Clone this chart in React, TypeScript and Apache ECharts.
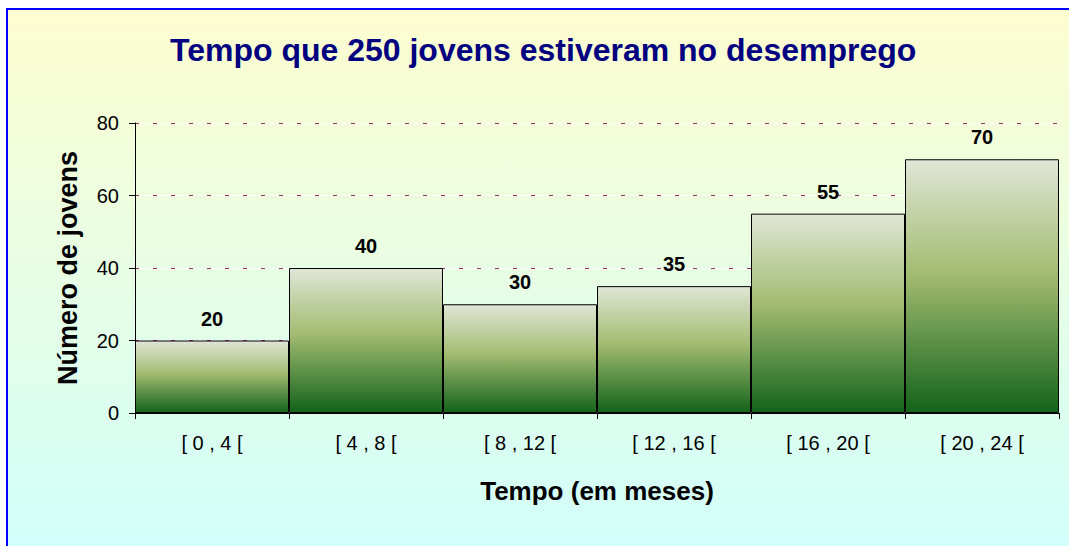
import React, { useEffect, useRef } from "react";
import * as echarts from "echarts";

const categories = ["[ 0 , 4 [", "[ 4 , 8 [", "[ 8 , 12 [", "[ 12 , 16 [", "[ 16 , 20 [", "[ 20 , 24 ["];
const values = [20, 40, 30, 35, 55, 70];
const titleText = "Tempo que 250 jovens estiveram no desemprego";
const xName = "Tempo (em meses)";
const yName = "Número de jovens";

const FONT = "Liberation Sans, Arial, sans-serif";

export default function App() {
  const ref = useRef<HTMLDivElement>(null);
  useEffect(() => {
    const chart = echarts.init(ref.current!, null, { renderer: "svg" });
    const barGrad = new echarts.graphic.LinearGradient(0, 0, 0, 1, [
      { offset: 0, color: "#e0e6d6" },
      { offset: 0.45, color: "#a3bc72" },
      { offset: 1, color: "#13631a" },
    ]);
    chart.setOption({
      animation: false,
      graphic: [
        {
          type: "rect",
          z: -100,
          silent: true,
          shape: { x: 7, y: 9, width: 1100, height: 600 },
          style: {
            fill: new echarts.graphic.LinearGradient(0, 0, 0, 1, [
              { offset: 0, color: "#fdfdd0" },
              { offset: 1, color: "#ccfffe" },
            ]),
            stroke: "#0000ff",
            lineWidth: 2,
          },
        },
      ],
      title: {
        text: titleText,
        left: 170,
        top: 34,
        padding: 0,
        textStyle: { fontFamily: FONT, fontSize: 32, fontWeight: "bold", color: "#000080" },
      },
      grid: { left: 135, right: 10, top: 123, bottom: 133, containLabel: false },
      xAxis: {
        type: "category",
        data: categories,
        name: xName,
        nameLocation: "middle",
        nameGap: 65,
        nameTextStyle: { fontFamily: FONT, fontSize: 26, fontWeight: "bold", color: "#000" },
        axisLine: { lineStyle: { color: "#000", width: 1 } },
        axisTick: { show: true, length: 6, alignWithLabel: false, lineStyle: { color: "#000" } },
        axisLabel: { margin: 20, fontFamily: FONT, fontSize: 20, color: "#000" },
        splitLine: { show: false },
        z: 5,
      },
      yAxis: [
        {
          type: "value",
          min: 0,
          max: 80,
          interval: 20,
          name: yName,
          nameLocation: "middle",
          nameGap: 54,
          nameTextStyle: { fontFamily: FONT, fontSize: 27, fontWeight: "bold", color: "#000" },
          axisLine: { show: true, lineStyle: { color: "#000", width: 1 } },
          axisTick: { show: true, length: 6, lineStyle: { color: "#000" } },
          axisLabel: { margin: 16, fontFamily: FONT, fontSize: 20, color: "#000" },
          splitLine: { show: true, lineStyle: { color: "#993366", type: [4, 14], width: 1 } },
          z: 1,
        },
        {
          type: "value",
          min: 0,
          max: 80,
          interval: 20,
          position: "left",
          axisLine: { show: false },
          axisTick: { show: false },
          axisLabel: { show: false },
          splitLine: { show: true, lineStyle: { color: "#ffffff", width: 1 } },
          z: 0,
        },
      ],
      series: [
        {
          type: "bar",
          data: values,
          barCategoryGap: 0,
          itemStyle: { color: barGrad, borderColor: "#000", borderWidth: 1 },
          label: {
            show: true,
            position: "top",
            distance: 12,
            fontFamily: FONT,
            fontSize: 20,
            fontWeight: "bold",
            color: "#000",
          },
          z: 3,
        },
      ],
    });
    return () => chart.dispose();
  }, []);
  return (
    <div
      ref={ref}
      style={{ position: "absolute", left: 0, top: 0, width: 1069, height: 546 }}
    />
  );
}
